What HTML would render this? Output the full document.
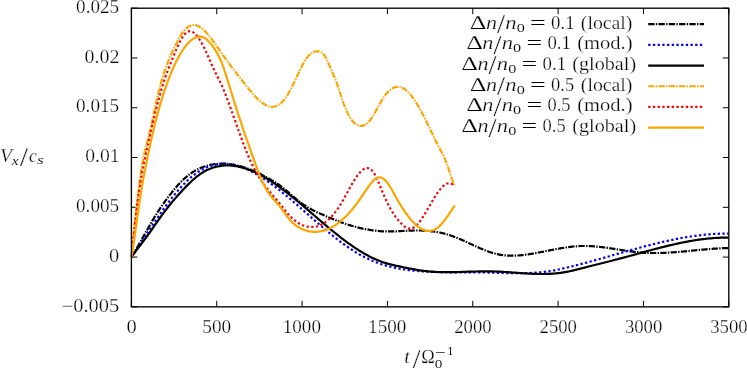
<!DOCTYPE html>
<html><head><meta charset="utf-8"><title>plot</title>
<style>html,body{margin:0;padding:0;background:#fff}svg{display:block;will-change:transform}text{font-family:"Liberation Serif","DejaVu Serif",serif;font-size:18px;fill:#000;stroke:#fff;stroke-width:0.25px}.i{font-style:italic}.s{font-size:12.6px}</style></head><body>
<svg width="747" height="368" viewBox="0 0 747 368">
<rect width="747" height="368" fill="#fff"/>
<path d="M131.40,306.85 v-6 M131.40,8.2 v6 M216.74,306.85 v-6 M216.74,8.2 v6 M302.09,306.85 v-6 M302.09,8.2 v6 M387.43,306.85 v-6 M387.43,8.2 v6 M472.77,306.85 v-6 M472.77,8.2 v6 M558.11,306.85 v-6 M558.11,8.2 v6 M643.46,306.85 v-6 M643.46,8.2 v6 M728.80,306.85 v-6 M728.80,8.2 v6 M131.4,306.85 h6 M728.8,306.85 h-6 M131.4,257.08 h6 M728.8,257.08 h-6 M131.4,207.30 h6 M728.8,207.30 h-6 M131.4,157.53 h6 M728.8,157.53 h-6 M131.4,107.75 h6 M728.8,107.75 h-6 M131.4,57.97 h6 M728.8,57.97 h-6 M131.4,8.20 h6 M728.8,8.20 h-6" stroke="#000" stroke-width="1" fill="none"/>
<path d="M131.5,257.0 L132.5,255.4 L133.5,253.7 L134.5,252.1 L135.5,250.4 L136.5,248.6 L137.5,246.9 L138.5,245.2 L139.5,243.4 L140.5,241.6 L141.5,239.9 L142.5,238.1 L143.5,236.3 L144.5,234.5 L145.5,232.7 L146.5,230.9 L147.5,229.2 L148.5,227.4 L149.5,225.7 L150.5,223.9 L151.5,222.2 L152.5,220.5 L153.5,218.8 L154.5,217.2 L155.5,215.6 L156.5,214.0 L157.5,212.4 L158.5,210.9 L159.5,209.3 L160.5,207.8 L161.5,206.4 L162.5,204.9 L163.5,203.5 L164.5,202.1 L165.5,200.7 L166.5,199.3 L167.5,198.0 L168.5,196.6 L169.5,195.3 L170.5,194.1 L171.5,192.8 L172.5,191.5 L173.5,190.3 L174.5,189.1 L175.5,187.9 L176.5,186.8 L177.5,185.6 L178.5,184.5 L179.5,183.5 L180.5,182.4 L181.5,181.4 L182.5,180.4 L183.5,179.4 L184.5,178.5 L185.5,177.6 L186.5,176.8 L187.5,175.9 L188.5,175.2 L189.5,174.4 L190.5,173.7 L191.5,173.0 L192.5,172.3 L193.5,171.7 L194.5,171.1 L195.5,170.5 L196.5,169.9 L197.5,169.4 L198.5,168.9 L199.5,168.4 L200.5,168.0 L201.5,167.6 L202.5,167.2 L203.5,166.8 L204.5,166.5 L205.5,166.1 L206.5,165.8 L207.5,165.6 L208.5,165.3 L209.5,165.1 L210.5,164.8 L211.5,164.6 L212.5,164.5 L213.5,164.3 L214.5,164.1 L215.5,164.0 L216.5,163.9 L217.5,163.8 L218.5,163.8 L219.5,163.7 L220.5,163.7 L221.5,163.6 L222.5,163.6 L223.5,163.7 L224.5,163.7 L225.5,163.7 L226.5,163.8 L227.5,163.9 L228.5,164.0 L229.5,164.1 L230.5,164.2 L231.5,164.4 L232.5,164.5 L233.5,164.7 L234.5,164.9 L235.5,165.1 L236.5,165.3 L237.5,165.5 L238.5,165.8 L239.5,166.0 L240.5,166.3 L241.5,166.6 L242.5,166.9 L243.5,167.2 L244.5,167.5 L245.5,167.8 L246.5,168.2 L247.5,168.5 L248.5,168.9 L249.5,169.3 L250.5,169.7 L251.5,170.1 L252.5,170.5 L253.5,170.9 L254.5,171.3 L255.5,171.8 L256.5,172.2 L257.5,172.7 L258.5,173.2 L259.5,173.6 L260.5,174.1 L261.5,174.6 L262.5,175.2 L263.5,175.7 L264.5,176.2 L265.5,176.7 L266.5,177.3 L267.5,177.8 L268.5,178.4 L269.5,179.0 L270.5,179.5 L271.5,180.1 L272.5,180.7 L273.5,181.3 L274.5,181.9 L275.5,182.5 L276.5,183.2 L277.5,183.8 L278.5,184.5 L279.5,185.2 L280.5,185.9 L281.5,186.7 L282.5,187.4 L283.5,188.2 L284.5,189.0 L285.5,189.9 L286.5,190.7 L287.5,191.5 L288.5,192.4 L289.5,193.3 L290.5,194.1 L291.5,195.0 L292.5,195.9 L293.5,196.7 L294.5,197.6 L295.5,198.4 L296.5,199.3 L297.5,200.1 L298.5,200.9 L299.5,201.7 L300.5,202.4 L301.5,203.2 L302.5,203.9 L303.5,204.6 L304.5,205.2 L305.5,205.9 L306.5,206.5 L307.5,207.1 L308.5,207.7 L309.5,208.3 L310.5,208.8 L311.5,209.4 L312.5,209.9 L313.5,210.4 L314.5,210.9 L315.5,211.4 L316.5,211.9 L317.5,212.4 L318.5,212.8 L319.5,213.3 L320.5,213.7 L321.5,214.2 L322.5,214.6 L323.5,215.1 L324.5,215.5 L325.5,216.0 L326.5,216.4 L327.5,216.8 L328.5,217.3 L329.5,217.7 L330.5,218.1 L331.5,218.5 L332.5,218.9 L333.5,219.3 L334.5,219.7 L335.5,220.1 L336.5,220.5 L337.5,220.9 L338.5,221.3 L339.5,221.7 L340.5,222.0 L341.5,222.4 L342.5,222.7 L343.5,223.1 L344.5,223.4 L345.5,223.8 L346.5,224.1 L347.5,224.4 L348.5,224.8 L349.5,225.1 L350.5,225.4 L351.5,225.7 L352.5,226.0 L353.5,226.3 L354.5,226.6 L355.5,226.8 L356.5,227.1 L357.5,227.4 L358.5,227.6 L359.5,227.9 L360.5,228.1 L361.5,228.3 L362.5,228.6 L363.5,228.8 L364.5,229.0 L365.5,229.2 L366.5,229.4 L367.5,229.6 L368.5,229.7 L369.5,229.9 L370.5,230.1 L371.5,230.2 L372.5,230.4 L373.5,230.5 L374.5,230.6 L375.5,230.7 L376.5,230.9 L377.5,231.0 L378.5,231.0 L379.5,231.1 L380.5,231.2 L381.5,231.3 L382.5,231.3 L383.5,231.3 L384.5,231.4 L385.5,231.4 L386.5,231.4 L387.5,231.4 L388.5,231.4 L389.5,231.4 L390.5,231.4 L391.5,231.4 L392.5,231.4 L393.5,231.4 L394.5,231.3 L395.5,231.3 L396.5,231.3 L397.5,231.2 L398.5,231.2 L399.5,231.1 L400.5,231.1 L401.5,231.0 L402.5,231.0 L403.5,230.9 L404.5,230.9 L405.5,230.8 L406.5,230.8 L407.5,230.8 L408.5,230.7 L409.5,230.7 L410.5,230.6 L411.5,230.6 L412.5,230.6 L413.5,230.5 L414.5,230.5 L415.5,230.5 L416.5,230.5 L417.5,230.5 L418.5,230.5 L419.5,230.5 L420.5,230.5 L421.5,230.5 L422.5,230.6 L423.5,230.6 L424.5,230.7 L425.5,230.7 L426.5,230.8 L427.5,230.9 L428.5,231.0 L429.5,231.0 L430.5,231.2 L431.5,231.3 L432.5,231.4 L433.5,231.5 L434.5,231.7 L435.5,231.8 L436.5,232.0 L437.5,232.2 L438.5,232.3 L439.5,232.5 L440.5,232.7 L441.5,233.0 L442.5,233.2 L443.5,233.4 L444.5,233.7 L445.5,233.9 L446.5,234.2 L447.5,234.5 L448.5,234.8 L449.5,235.1 L450.5,235.4 L451.5,235.8 L452.5,236.1 L453.5,236.5 L454.5,236.9 L455.5,237.3 L456.5,237.7 L457.5,238.1 L458.5,238.5 L459.5,238.9 L460.5,239.3 L461.5,239.8 L462.5,240.2 L463.5,240.6 L464.5,241.1 L465.5,241.5 L466.5,242.0 L467.5,242.5 L468.5,242.9 L469.5,243.4 L470.5,243.9 L471.5,244.3 L472.5,244.8 L473.5,245.2 L474.5,245.7 L475.5,246.2 L476.5,246.6 L477.5,247.1 L478.5,247.5 L479.5,248.0 L480.5,248.4 L481.5,248.8 L482.5,249.2 L483.5,249.6 L484.5,250.1 L485.5,250.4 L486.5,250.8 L487.5,251.2 L488.5,251.6 L489.5,251.9 L490.5,252.3 L491.5,252.6 L492.5,252.9 L493.5,253.2 L494.5,253.5 L495.5,253.7 L496.5,254.0 L497.5,254.2 L498.5,254.4 L499.5,254.6 L500.5,254.8 L501.5,255.0 L502.5,255.1 L503.5,255.2 L504.5,255.3 L505.5,255.4 L506.5,255.5 L507.5,255.6 L508.5,255.6 L509.5,255.7 L510.5,255.7 L511.5,255.7 L512.5,255.7 L513.5,255.7 L514.5,255.7 L515.5,255.6 L516.5,255.6 L517.5,255.5 L518.5,255.5 L519.5,255.4 L520.5,255.3 L521.5,255.2 L522.5,255.1 L523.5,255.0 L524.5,254.9 L525.5,254.7 L526.5,254.6 L527.5,254.5 L528.5,254.3 L529.5,254.1 L530.5,254.0 L531.5,253.8 L532.5,253.6 L533.5,253.5 L534.5,253.3 L535.5,253.1 L536.5,252.9 L537.5,252.7 L538.5,252.5 L539.5,252.3 L540.5,252.2 L541.5,252.0 L542.5,251.8 L543.5,251.6 L544.5,251.4 L545.5,251.2 L546.5,251.0 L547.5,250.8 L548.5,250.6 L549.5,250.4 L550.5,250.2 L551.5,250.0 L552.5,249.8 L553.5,249.6 L554.5,249.4 L555.5,249.2 L556.5,249.0 L557.5,248.8 L558.5,248.7 L559.5,248.5 L560.5,248.3 L561.5,248.1 L562.5,248.0 L563.5,247.8 L564.5,247.7 L565.5,247.5 L566.5,247.4 L567.5,247.2 L568.5,247.1 L569.5,247.0 L570.5,246.8 L571.5,246.7 L572.5,246.6 L573.5,246.5 L574.5,246.4 L575.5,246.3 L576.5,246.3 L577.5,246.2 L578.5,246.1 L579.5,246.1 L580.5,246.0 L581.5,246.0 L582.5,246.0 L583.5,246.0 L584.5,246.0 L585.5,246.0 L586.5,246.0 L587.5,246.0 L588.5,246.0 L589.5,246.1 L590.5,246.1 L591.5,246.2 L592.5,246.2 L593.5,246.3 L594.5,246.4 L595.5,246.5 L596.5,246.6 L597.5,246.7 L598.5,246.8 L599.5,246.9 L600.5,247.0 L601.5,247.1 L602.5,247.2 L603.5,247.3 L604.5,247.5 L605.5,247.6 L606.5,247.7 L607.5,247.9 L608.5,248.0 L609.5,248.2 L610.5,248.3 L611.5,248.5 L612.5,248.6 L613.5,248.8 L614.5,248.9 L615.5,249.1 L616.5,249.2 L617.5,249.4 L618.5,249.6 L619.5,249.7 L620.5,249.9 L621.5,250.0 L622.5,250.2 L623.5,250.3 L624.5,250.5 L625.5,250.6 L626.5,250.8 L627.5,250.9 L628.5,251.1 L629.5,251.2 L630.5,251.3 L631.5,251.5 L632.5,251.6 L633.5,251.7 L634.5,251.9 L635.5,252.0 L636.5,252.1 L637.5,252.2 L638.5,252.3 L639.5,252.4 L640.5,252.5 L641.5,252.6 L642.5,252.6 L643.5,252.7 L644.5,252.8 L645.5,252.8 L646.5,252.9 L647.5,252.9 L648.5,252.9 L649.5,253.0 L650.5,253.0 L651.5,253.0 L652.5,253.0 L653.5,253.0 L654.5,253.0 L655.5,253.0 L656.5,253.0 L657.5,253.0 L658.5,253.0 L659.5,253.0 L660.5,253.0 L661.5,252.9 L662.5,252.9 L663.5,252.9 L664.5,252.8 L665.5,252.8 L666.5,252.7 L667.5,252.7 L668.5,252.6 L669.5,252.6 L670.5,252.5 L671.5,252.4 L672.5,252.4 L673.5,252.3 L674.5,252.2 L675.5,252.1 L676.5,252.1 L677.5,252.0 L678.5,251.9 L679.5,251.8 L680.5,251.7 L681.5,251.6 L682.5,251.6 L683.5,251.5 L684.5,251.4 L685.5,251.3 L686.5,251.2 L687.5,251.1 L688.5,251.0 L689.5,250.9 L690.5,250.8 L691.5,250.7 L692.5,250.6 L693.5,250.5 L694.5,250.4 L695.5,250.3 L696.5,250.2 L697.5,250.1 L698.5,250.0 L699.5,249.9 L700.5,249.8 L701.5,249.7 L702.5,249.6 L703.5,249.6 L704.5,249.5 L705.5,249.4 L706.5,249.3 L707.5,249.2 L708.5,249.1 L709.5,249.0 L710.5,249.0 L711.5,248.9 L712.5,248.8 L713.5,248.7 L714.5,248.7 L715.5,248.6 L716.5,248.6 L717.5,248.5 L718.5,248.4 L719.5,248.4 L720.5,248.3 L721.5,248.3 L722.5,248.2 L723.5,248.2 L724.5,248.2 L725.5,248.1 L726.5,248.1 L727.5,248.1 L728.5,248.1" fill="none" stroke="#000" stroke-width="2.2" stroke-dasharray="6.3 1.3 1.4 1.3" stroke-linejoin="round"/>
<path d="M131.5,257.0 L132.5,255.5 L133.5,254.0 L134.5,252.5 L135.5,251.0 L136.5,249.5 L137.5,248.0 L138.5,246.5 L139.5,244.9 L140.5,243.4 L141.5,241.9 L142.5,240.4 L143.5,238.8 L144.5,237.3 L145.5,235.8 L146.5,234.2 L147.5,232.7 L148.5,231.2 L149.5,229.7 L150.5,228.2 L151.5,226.7 L152.5,225.2 L153.5,223.7 L154.5,222.2 L155.5,220.7 L156.5,219.2 L157.5,217.8 L158.5,216.3 L159.5,214.9 L160.5,213.4 L161.5,212.0 L162.5,210.6 L163.5,209.2 L164.5,207.8 L165.5,206.4 L166.5,205.0 L167.5,203.7 L168.5,202.4 L169.5,201.0 L170.5,199.7 L171.5,198.5 L172.5,197.2 L173.5,195.9 L174.5,194.7 L175.5,193.5 L176.5,192.3 L177.5,191.1 L178.5,189.9 L179.5,188.8 L180.5,187.7 L181.5,186.6 L182.5,185.5 L183.5,184.5 L184.5,183.5 L185.5,182.4 L186.5,181.5 L187.5,180.5 L188.5,179.6 L189.5,178.7 L190.5,177.8 L191.5,176.9 L192.5,176.1 L193.5,175.3 L194.5,174.6 L195.5,173.8 L196.5,173.1 L197.5,172.4 L198.5,171.8 L199.5,171.1 L200.5,170.5 L201.5,169.9 L202.5,169.4 L203.5,168.9 L204.5,168.4 L205.5,167.9 L206.5,167.5 L207.5,167.1 L208.5,166.7 L209.5,166.3 L210.5,166.0 L211.5,165.7 L212.5,165.4 L213.5,165.1 L214.5,164.9 L215.5,164.7 L216.5,164.5 L217.5,164.3 L218.5,164.2 L219.5,164.1 L220.5,164.0 L221.5,164.0 L222.5,163.9 L223.5,163.9 L224.5,163.9 L225.5,163.9 L226.5,164.0 L227.5,164.1 L228.5,164.1 L229.5,164.3 L230.5,164.4 L231.5,164.5 L232.5,164.7 L233.5,164.9 L234.5,165.1 L235.5,165.4 L236.5,165.6 L237.5,165.9 L238.5,166.2 L239.5,166.5 L240.5,166.8 L241.5,167.2 L242.5,167.5 L243.5,167.9 L244.5,168.3 L245.5,168.7 L246.5,169.1 L247.5,169.6 L248.5,170.0 L249.5,170.5 L250.5,171.0 L251.5,171.5 L252.5,172.0 L253.5,172.5 L254.5,173.1 L255.5,173.6 L256.5,174.2 L257.5,174.8 L258.5,175.3 L259.5,176.0 L260.5,176.6 L261.5,177.2 L262.5,177.8 L263.5,178.5 L264.5,179.1 L265.5,179.8 L266.5,180.5 L267.5,181.2 L268.5,181.9 L269.5,182.6 L270.5,183.3 L271.5,184.0 L272.5,184.8 L273.5,185.5 L274.5,186.3 L275.5,187.0 L276.5,187.8 L277.5,188.6 L278.5,189.4 L279.5,190.1 L280.5,190.9 L281.5,191.7 L282.5,192.6 L283.5,193.4 L284.5,194.2 L285.5,195.0 L286.5,195.8 L287.5,196.7 L288.5,197.5 L289.5,198.4 L290.5,199.2 L291.5,200.1 L292.5,200.9 L293.5,201.8 L294.5,202.6 L295.5,203.5 L296.5,204.4 L297.5,205.2 L298.5,206.1 L299.5,207.0 L300.5,207.9 L301.5,208.8 L302.5,209.6 L303.5,210.5 L304.5,211.4 L305.5,212.3 L306.5,213.2 L307.5,214.0 L308.5,214.9 L309.5,215.8 L310.5,216.7 L311.5,217.6 L312.5,218.5 L313.5,219.3 L314.5,220.2 L315.5,221.1 L316.5,222.0 L317.5,222.8 L318.5,223.7 L319.5,224.6 L320.5,225.4 L321.5,226.3 L322.5,227.2 L323.5,228.0 L324.5,228.9 L325.5,229.7 L326.5,230.5 L327.5,231.4 L328.5,232.2 L329.5,233.0 L330.5,233.9 L331.5,234.7 L332.5,235.5 L333.5,236.3 L334.5,237.1 L335.5,237.9 L336.5,238.7 L337.5,239.5 L338.5,240.2 L339.5,241.0 L340.5,241.8 L341.5,242.5 L342.5,243.3 L343.5,244.0 L344.5,244.7 L345.5,245.4 L346.5,246.1 L347.5,246.8 L348.5,247.5 L349.5,248.2 L350.5,248.9 L351.5,249.5 L352.5,250.2 L353.5,250.8 L354.5,251.5 L355.5,252.1 L356.5,252.7 L357.5,253.3 L358.5,253.9 L359.5,254.5 L360.5,255.0 L361.5,255.6 L362.5,256.1 L363.5,256.6 L364.5,257.2 L365.5,257.7 L366.5,258.1 L367.5,258.6 L368.5,259.1 L369.5,259.5 L370.5,260.0 L371.5,260.4 L372.5,260.8 L373.5,261.3 L374.5,261.7 L375.5,262.0 L376.5,262.4 L377.5,262.8 L378.5,263.2 L379.5,263.5 L380.5,263.8 L381.5,264.2 L382.5,264.5 L383.5,264.8 L384.5,265.1 L385.5,265.4 L386.5,265.7 L387.5,266.0 L388.5,266.2 L389.5,266.5 L390.5,266.8 L391.5,267.0 L392.5,267.2 L393.5,267.5 L394.5,267.7 L395.5,267.9 L396.5,268.1 L397.5,268.3 L398.5,268.5 L399.5,268.7 L400.5,268.9 L401.5,269.0 L402.5,269.2 L403.5,269.4 L404.5,269.5 L405.5,269.7 L406.5,269.8 L407.5,269.9 L408.5,270.1 L409.5,270.2 L410.5,270.3 L411.5,270.4 L412.5,270.5 L413.5,270.6 L414.5,270.7 L415.5,270.8 L416.5,270.9 L417.5,271.0 L418.5,271.1 L419.5,271.2 L420.5,271.3 L421.5,271.3 L422.5,271.4 L423.5,271.5 L424.5,271.5 L425.5,271.6 L426.5,271.6 L427.5,271.7 L428.5,271.7 L429.5,271.8 L430.5,271.8 L431.5,271.9 L432.5,271.9 L433.5,271.9 L434.5,272.0 L435.5,272.0 L436.5,272.0 L437.5,272.1 L438.5,272.1 L439.5,272.1 L440.5,272.1 L441.5,272.2 L442.5,272.2 L443.5,272.2 L444.5,272.2 L445.5,272.2 L446.5,272.2 L447.5,272.2 L448.5,272.2 L449.5,272.2 L450.5,272.3 L451.5,272.3 L452.5,272.3 L453.5,272.3 L454.5,272.3 L455.5,272.3 L456.5,272.3 L457.5,272.3 L458.5,272.3 L459.5,272.3 L460.5,272.3 L461.5,272.3 L462.5,272.3 L463.5,272.3 L464.5,272.3 L465.5,272.3 L466.5,272.3 L467.5,272.3 L468.5,272.3 L469.5,272.3 L470.5,272.3 L471.5,272.3 L472.5,272.3 L473.5,272.3 L474.5,272.3 L475.5,272.3 L476.5,272.3 L477.5,272.3 L478.5,272.3 L479.5,272.4 L480.5,272.4 L481.5,272.4 L482.5,272.4 L483.5,272.4 L484.5,272.5 L485.5,272.5 L486.5,272.5 L487.5,272.5 L488.5,272.6 L489.5,272.6 L490.5,272.6 L491.5,272.6 L492.5,272.7 L493.5,272.7 L494.5,272.7 L495.5,272.8 L496.5,272.8 L497.5,272.8 L498.5,272.9 L499.5,272.9 L500.5,272.9 L501.5,272.9 L502.5,273.0 L503.5,273.0 L504.5,273.0 L505.5,273.0 L506.5,273.1 L507.5,273.1 L508.5,273.1 L509.5,273.1 L510.5,273.2 L511.5,273.2 L512.5,273.2 L513.5,273.2 L514.5,273.2 L515.5,273.2 L516.5,273.2 L517.5,273.2 L518.5,273.2 L519.5,273.2 L520.5,273.2 L521.5,273.2 L522.5,273.2 L523.5,273.2 L524.5,273.2 L525.5,273.1 L526.5,273.1 L527.5,273.1 L528.5,273.0 L529.5,273.0 L530.5,273.0 L531.5,272.9 L532.5,272.9 L533.5,272.8 L534.5,272.7 L535.5,272.7 L536.5,272.6 L537.5,272.5 L538.5,272.4 L539.5,272.4 L540.5,272.3 L541.5,272.2 L542.5,272.1 L543.5,272.0 L544.5,271.8 L545.5,271.7 L546.5,271.6 L547.5,271.5 L548.5,271.3 L549.5,271.2 L550.5,271.0 L551.5,270.8 L552.5,270.7 L553.5,270.5 L554.5,270.3 L555.5,270.1 L556.5,269.9 L557.5,269.7 L558.5,269.5 L559.5,269.3 L560.5,269.1 L561.5,268.9 L562.5,268.6 L563.5,268.4 L564.5,268.2 L565.5,267.9 L566.5,267.7 L567.5,267.5 L568.5,267.2 L569.5,267.0 L570.5,266.7 L571.5,266.5 L572.5,266.2 L573.5,266.0 L574.5,265.7 L575.5,265.5 L576.5,265.2 L577.5,265.0 L578.5,264.7 L579.5,264.5 L580.5,264.2 L581.5,263.9 L582.5,263.7 L583.5,263.4 L584.5,263.1 L585.5,262.9 L586.5,262.6 L587.5,262.3 L588.5,262.1 L589.5,261.8 L590.5,261.5 L591.5,261.2 L592.5,261.0 L593.5,260.7 L594.5,260.4 L595.5,260.1 L596.5,259.9 L597.5,259.6 L598.5,259.3 L599.5,259.0 L600.5,258.7 L601.5,258.4 L602.5,258.2 L603.5,257.9 L604.5,257.6 L605.5,257.3 L606.5,257.0 L607.5,256.7 L608.5,256.5 L609.5,256.2 L610.5,255.9 L611.5,255.6 L612.5,255.3 L613.5,255.0 L614.5,254.8 L615.5,254.5 L616.5,254.2 L617.5,253.9 L618.5,253.6 L619.5,253.3 L620.5,253.0 L621.5,252.8 L622.5,252.5 L623.5,252.2 L624.5,251.9 L625.5,251.6 L626.5,251.3 L627.5,251.1 L628.5,250.8 L629.5,250.5 L630.5,250.2 L631.5,249.9 L632.5,249.7 L633.5,249.4 L634.5,249.1 L635.5,248.8 L636.5,248.6 L637.5,248.3 L638.5,248.0 L639.5,247.8 L640.5,247.5 L641.5,247.2 L642.5,247.0 L643.5,246.7 L644.5,246.4 L645.5,246.2 L646.5,245.9 L647.5,245.6 L648.5,245.4 L649.5,245.1 L650.5,244.9 L651.5,244.6 L652.5,244.4 L653.5,244.1 L654.5,243.9 L655.5,243.6 L656.5,243.4 L657.5,243.1 L658.5,242.9 L659.5,242.7 L660.5,242.4 L661.5,242.2 L662.5,242.0 L663.5,241.7 L664.5,241.5 L665.5,241.3 L666.5,241.0 L667.5,240.8 L668.5,240.6 L669.5,240.4 L670.5,240.2 L671.5,240.0 L672.5,239.8 L673.5,239.6 L674.5,239.3 L675.5,239.1 L676.5,238.9 L677.5,238.8 L678.5,238.6 L679.5,238.4 L680.5,238.2 L681.5,238.0 L682.5,237.8 L683.5,237.6 L684.5,237.5 L685.5,237.3 L686.5,237.1 L687.5,237.0 L688.5,236.8 L689.5,236.7 L690.5,236.5 L691.5,236.4 L692.5,236.2 L693.5,236.1 L694.5,235.9 L695.5,235.8 L696.5,235.7 L697.5,235.5 L698.5,235.4 L699.5,235.3 L700.5,235.2 L701.5,235.0 L702.5,234.9 L703.5,234.8 L704.5,234.7 L705.5,234.6 L706.5,234.5 L707.5,234.5 L708.5,234.4 L709.5,234.3 L710.5,234.2 L711.5,234.1 L712.5,234.1 L713.5,234.0 L714.5,233.9 L715.5,233.9 L716.5,233.8 L717.5,233.8 L718.5,233.8 L719.5,233.7 L720.5,233.7 L721.5,233.7 L722.5,233.6 L723.5,233.6 L724.5,233.6 L725.5,233.6 L726.5,233.6 L727.5,233.6 L728.5,233.6" fill="none" stroke="#0000ff" stroke-width="2.2" stroke-dasharray="2.3 2.4" stroke-linejoin="round"/>
<path d="M131.5,256.9 L132.5,255.6 L133.5,254.2 L134.5,252.9 L135.5,251.5 L136.5,250.2 L137.5,248.9 L138.5,247.6 L139.5,246.3 L140.5,245.0 L141.5,243.7 L142.5,242.4 L143.5,241.0 L144.5,239.7 L145.5,238.3 L146.5,237.0 L147.5,235.6 L148.5,234.2 L149.5,232.8 L150.5,231.4 L151.5,230.0 L152.5,228.6 L153.5,227.1 L154.5,225.7 L155.5,224.2 L156.5,222.8 L157.5,221.3 L158.5,219.9 L159.5,218.5 L160.5,217.1 L161.5,215.7 L162.5,214.4 L163.5,213.0 L164.5,211.7 L165.5,210.4 L166.5,209.1 L167.5,207.8 L168.5,206.5 L169.5,205.3 L170.5,204.0 L171.5,202.8 L172.5,201.6 L173.5,200.4 L174.5,199.3 L175.5,198.1 L176.5,196.9 L177.5,195.8 L178.5,194.7 L179.5,193.6 L180.5,192.5 L181.5,191.4 L182.5,190.3 L183.5,189.2 L184.5,188.2 L185.5,187.1 L186.5,186.1 L187.5,185.1 L188.5,184.1 L189.5,183.1 L190.5,182.2 L191.5,181.2 L192.5,180.3 L193.5,179.4 L194.5,178.6 L195.5,177.7 L196.5,176.9 L197.5,176.1 L198.5,175.3 L199.5,174.6 L200.5,173.9 L201.5,173.2 L202.5,172.6 L203.5,172.0 L204.5,171.4 L205.5,170.8 L206.5,170.3 L207.5,169.8 L208.5,169.4 L209.5,168.9 L210.5,168.5 L211.5,168.2 L212.5,167.8 L213.5,167.5 L214.5,167.2 L215.5,166.9 L216.5,166.7 L217.5,166.5 L218.5,166.3 L219.5,166.1 L220.5,165.9 L221.5,165.8 L222.5,165.7 L223.5,165.6 L224.5,165.5 L225.5,165.5 L226.5,165.4 L227.5,165.4 L228.5,165.5 L229.5,165.5 L230.5,165.5 L231.5,165.6 L232.5,165.7 L233.5,165.8 L234.5,165.9 L235.5,166.1 L236.5,166.2 L237.5,166.4 L238.5,166.6 L239.5,166.8 L240.5,167.1 L241.5,167.3 L242.5,167.6 L243.5,167.9 L244.5,168.2 L245.5,168.5 L246.5,168.8 L247.5,169.2 L248.5,169.5 L249.5,169.9 L250.5,170.3 L251.5,170.7 L252.5,171.1 L253.5,171.6 L254.5,172.0 L255.5,172.5 L256.5,172.9 L257.5,173.4 L258.5,173.9 L259.5,174.4 L260.5,175.0 L261.5,175.5 L262.5,176.1 L263.5,176.6 L264.5,177.2 L265.5,177.8 L266.5,178.4 L267.5,179.0 L268.5,179.6 L269.5,180.2 L270.5,180.9 L271.5,181.5 L272.5,182.2 L273.5,182.9 L274.5,183.5 L275.5,184.2 L276.5,184.9 L277.5,185.6 L278.5,186.4 L279.5,187.1 L280.5,187.8 L281.5,188.5 L282.5,189.3 L283.5,190.0 L284.5,190.8 L285.5,191.6 L286.5,192.3 L287.5,193.1 L288.5,193.9 L289.5,194.7 L290.5,195.5 L291.5,196.3 L292.5,197.1 L293.5,197.9 L294.5,198.7 L295.5,199.5 L296.5,200.4 L297.5,201.2 L298.5,202.0 L299.5,202.9 L300.5,203.7 L301.5,204.5 L302.5,205.4 L303.5,206.2 L304.5,207.1 L305.5,207.9 L306.5,208.8 L307.5,209.6 L308.5,210.5 L309.5,211.4 L310.5,212.2 L311.5,213.1 L312.5,213.9 L313.5,214.8 L314.5,215.7 L315.5,216.5 L316.5,217.4 L317.5,218.2 L318.5,219.1 L319.5,220.0 L320.5,220.8 L321.5,221.7 L322.5,222.5 L323.5,223.4 L324.5,224.2 L325.5,225.1 L326.5,225.9 L327.5,226.8 L328.5,227.6 L329.5,228.4 L330.5,229.3 L331.5,230.1 L332.5,230.9 L333.5,231.7 L334.5,232.5 L335.5,233.3 L336.5,234.1 L337.5,234.9 L338.5,235.7 L339.5,236.5 L340.5,237.3 L341.5,238.1 L342.5,238.8 L343.5,239.6 L344.5,240.4 L345.5,241.1 L346.5,241.8 L347.5,242.6 L348.5,243.3 L349.5,244.0 L350.5,244.7 L351.5,245.4 L352.5,246.1 L353.5,246.8 L354.5,247.5 L355.5,248.1 L356.5,248.8 L357.5,249.4 L358.5,250.1 L359.5,250.7 L360.5,251.3 L361.5,251.9 L362.5,252.5 L363.5,253.1 L364.5,253.7 L365.5,254.2 L366.5,254.8 L367.5,255.3 L368.5,255.9 L369.5,256.4 L370.5,256.9 L371.5,257.4 L372.5,257.9 L373.5,258.3 L374.5,258.8 L375.5,259.2 L376.5,259.7 L377.5,260.1 L378.5,260.5 L379.5,260.9 L380.5,261.3 L381.5,261.7 L382.5,262.0 L383.5,262.4 L384.5,262.7 L385.5,263.0 L386.5,263.3 L387.5,263.6 L388.5,263.9 L389.5,264.1 L390.5,264.4 L391.5,264.6 L392.5,264.9 L393.5,265.1 L394.5,265.3 L395.5,265.6 L396.5,265.8 L397.5,266.0 L398.5,266.2 L399.5,266.4 L400.5,266.6 L401.5,266.8 L402.5,267.0 L403.5,267.3 L404.5,267.5 L405.5,267.7 L406.5,267.9 L407.5,268.1 L408.5,268.3 L409.5,268.5 L410.5,268.7 L411.5,268.9 L412.5,269.1 L413.5,269.2 L414.5,269.4 L415.5,269.6 L416.5,269.8 L417.5,270.0 L418.5,270.1 L419.5,270.3 L420.5,270.4 L421.5,270.6 L422.5,270.7 L423.5,270.8 L424.5,271.0 L425.5,271.1 L426.5,271.2 L427.5,271.3 L428.5,271.4 L429.5,271.5 L430.5,271.6 L431.5,271.7 L432.5,271.7 L433.5,271.8 L434.5,271.9 L435.5,271.9 L436.5,272.0 L437.5,272.0 L438.5,272.0 L439.5,272.1 L440.5,272.1 L441.5,272.1 L442.5,272.2 L443.5,272.2 L444.5,272.2 L445.5,272.2 L446.5,272.2 L447.5,272.2 L448.5,272.2 L449.5,272.2 L450.5,272.2 L451.5,272.2 L452.5,272.2 L453.5,272.1 L454.5,272.1 L455.5,272.1 L456.5,272.1 L457.5,272.1 L458.5,272.0 L459.5,272.0 L460.5,272.0 L461.5,271.9 L462.5,271.9 L463.5,271.9 L464.5,271.8 L465.5,271.8 L466.5,271.8 L467.5,271.7 L468.5,271.7 L469.5,271.7 L470.5,271.7 L471.5,271.6 L472.5,271.6 L473.5,271.6 L474.5,271.5 L475.5,271.5 L476.5,271.5 L477.5,271.5 L478.5,271.4 L479.5,271.4 L480.5,271.4 L481.5,271.4 L482.5,271.4 L483.5,271.4 L484.5,271.4 L485.5,271.3 L486.5,271.3 L487.5,271.3 L488.5,271.4 L489.5,271.4 L490.5,271.4 L491.5,271.4 L492.5,271.4 L493.5,271.4 L494.5,271.5 L495.5,271.5 L496.5,271.6 L497.5,271.6 L498.5,271.6 L499.5,271.7 L500.5,271.7 L501.5,271.8 L502.5,271.8 L503.5,271.9 L504.5,272.0 L505.5,272.0 L506.5,272.1 L507.5,272.2 L508.5,272.2 L509.5,272.3 L510.5,272.4 L511.5,272.4 L512.5,272.5 L513.5,272.6 L514.5,272.6 L515.5,272.7 L516.5,272.8 L517.5,272.9 L518.5,272.9 L519.5,273.0 L520.5,273.1 L521.5,273.1 L522.5,273.2 L523.5,273.3 L524.5,273.3 L525.5,273.4 L526.5,273.5 L527.5,273.5 L528.5,273.6 L529.5,273.6 L530.5,273.7 L531.5,273.7 L532.5,273.8 L533.5,273.8 L534.5,273.8 L535.5,273.9 L536.5,273.9 L537.5,273.9 L538.5,274.0 L539.5,274.0 L540.5,274.0 L541.5,274.0 L542.5,274.0 L543.5,274.0 L544.5,274.0 L545.5,274.0 L546.5,273.9 L547.5,273.9 L548.5,273.9 L549.5,273.8 L550.5,273.8 L551.5,273.7 L552.5,273.7 L553.5,273.6 L554.5,273.5 L555.5,273.4 L556.5,273.3 L557.5,273.2 L558.5,273.1 L559.5,273.0 L560.5,272.9 L561.5,272.7 L562.5,272.6 L563.5,272.4 L564.5,272.2 L565.5,272.1 L566.5,271.9 L567.5,271.7 L568.5,271.5 L569.5,271.3 L570.5,271.0 L571.5,270.8 L572.5,270.6 L573.5,270.3 L574.5,270.1 L575.5,269.8 L576.5,269.6 L577.5,269.3 L578.5,269.1 L579.5,268.8 L580.5,268.6 L581.5,268.3 L582.5,268.1 L583.5,267.8 L584.5,267.6 L585.5,267.3 L586.5,267.1 L587.5,266.8 L588.5,266.5 L589.5,266.3 L590.5,266.0 L591.5,265.8 L592.5,265.5 L593.5,265.3 L594.5,265.0 L595.5,264.8 L596.5,264.5 L597.5,264.3 L598.5,264.0 L599.5,263.8 L600.5,263.5 L601.5,263.3 L602.5,263.0 L603.5,262.8 L604.5,262.5 L605.5,262.3 L606.5,262.0 L607.5,261.8 L608.5,261.5 L609.5,261.3 L610.5,261.0 L611.5,260.8 L612.5,260.5 L613.5,260.2 L614.5,260.0 L615.5,259.7 L616.5,259.5 L617.5,259.2 L618.5,258.9 L619.5,258.7 L620.5,258.4 L621.5,258.2 L622.5,257.9 L623.5,257.6 L624.5,257.4 L625.5,257.1 L626.5,256.8 L627.5,256.5 L628.5,256.3 L629.5,256.0 L630.5,255.7 L631.5,255.5 L632.5,255.2 L633.5,254.9 L634.5,254.6 L635.5,254.4 L636.5,254.1 L637.5,253.8 L638.5,253.5 L639.5,253.3 L640.5,253.0 L641.5,252.7 L642.5,252.4 L643.5,252.2 L644.5,251.9 L645.5,251.6 L646.5,251.4 L647.5,251.1 L648.5,250.8 L649.5,250.5 L650.5,250.3 L651.5,250.0 L652.5,249.7 L653.5,249.5 L654.5,249.2 L655.5,248.9 L656.5,248.7 L657.5,248.4 L658.5,248.2 L659.5,247.9 L660.5,247.7 L661.5,247.4 L662.5,247.1 L663.5,246.9 L664.5,246.6 L665.5,246.4 L666.5,246.1 L667.5,245.9 L668.5,245.7 L669.5,245.4 L670.5,245.2 L671.5,245.0 L672.5,244.7 L673.5,244.5 L674.5,244.3 L675.5,244.0 L676.5,243.8 L677.5,243.6 L678.5,243.4 L679.5,243.2 L680.5,243.0 L681.5,242.7 L682.5,242.5 L683.5,242.3 L684.5,242.1 L685.5,241.9 L686.5,241.8 L687.5,241.6 L688.5,241.4 L689.5,241.2 L690.5,241.0 L691.5,240.8 L692.5,240.7 L693.5,240.5 L694.5,240.3 L695.5,240.2 L696.5,240.0 L697.5,239.9 L698.5,239.7 L699.5,239.6 L700.5,239.5 L701.5,239.3 L702.5,239.2 L703.5,239.1 L704.5,239.0 L705.5,238.8 L706.5,238.7 L707.5,238.6 L708.5,238.5 L709.5,238.4 L710.5,238.3 L711.5,238.3 L712.5,238.2 L713.5,238.1 L714.5,238.0 L715.5,238.0 L716.5,237.9 L717.5,237.9 L718.5,237.8 L719.5,237.8 L720.5,237.7 L721.5,237.7 L722.5,237.7 L723.5,237.7 L724.5,237.6 L725.5,237.6 L726.5,237.6 L727.5,237.6 L728.5,237.7" fill="none" stroke="#000" stroke-width="2.2" stroke-linejoin="round"/>
<path d="M131.5,256.9 L132.5,246.0 L133.5,235.6 L134.5,225.6 L135.5,216.1 L136.5,207.1 L137.5,198.5 L138.5,190.3 L139.5,182.6 L140.5,175.3 L141.5,168.6 L142.5,162.6 L143.5,157.2 L144.5,152.6 L145.5,148.4 L146.5,144.6 L147.5,140.9 L148.5,137.2 L149.5,133.2 L150.5,129.0 L151.5,124.4 L152.5,119.7 L153.5,114.9 L154.5,110.1 L155.5,105.4 L156.5,100.9 L157.5,96.5 L158.5,92.4 L159.5,88.4 L160.5,84.6 L161.5,81.1 L162.5,77.7 L163.5,74.5 L164.5,71.4 L165.5,68.5 L166.5,65.8 L167.5,63.1 L168.5,60.6 L169.5,58.2 L170.5,55.9 L171.5,53.7 L172.5,51.5 L173.5,49.4 L174.5,47.3 L175.5,45.3 L176.5,43.2 L177.5,41.3 L178.5,39.3 L179.5,37.5 L180.5,35.8 L181.5,34.2 L182.5,32.7 L183.5,31.4 L184.5,30.2 L185.5,29.1 L186.5,28.2 L187.5,27.4 L188.5,26.7 L189.5,26.1 L190.5,25.7 L191.5,25.3 L192.5,25.1 L193.5,25.0 L194.5,25.1 L195.5,25.2 L196.5,25.4 L197.5,25.8 L198.5,26.2 L199.5,26.8 L200.5,27.4 L201.5,28.1 L202.5,28.9 L203.5,29.8 L204.5,30.7 L205.5,31.7 L206.5,32.8 L207.5,33.9 L208.5,35.1 L209.5,36.3 L210.5,37.6 L211.5,38.9 L212.5,40.2 L213.5,41.6 L214.5,43.0 L215.5,44.4 L216.5,45.9 L217.5,47.3 L218.5,48.7 L219.5,50.2 L220.5,51.6 L221.5,53.1 L222.5,54.5 L223.5,55.9 L224.5,57.3 L225.5,58.7 L226.5,60.1 L227.5,61.4 L228.5,62.8 L229.5,64.1 L230.5,65.4 L231.5,66.8 L232.5,68.1 L233.5,69.4 L234.5,70.7 L235.5,72.0 L236.5,73.3 L237.5,74.6 L238.5,75.9 L239.5,77.2 L240.5,78.4 L241.5,79.7 L242.5,81.0 L243.5,82.3 L244.5,83.5 L245.5,84.8 L246.5,86.1 L247.5,87.3 L248.5,88.6 L249.5,89.8 L250.5,91.0 L251.5,92.2 L252.5,93.4 L253.5,94.5 L254.5,95.6 L255.5,96.7 L256.5,97.7 L257.5,98.7 L258.5,99.7 L259.5,100.6 L260.5,101.5 L261.5,102.3 L262.5,103.0 L263.5,103.7 L264.5,104.3 L265.5,104.9 L266.5,105.4 L267.5,105.8 L268.5,106.2 L269.5,106.5 L270.5,106.6 L271.5,106.8 L272.5,106.8 L273.5,106.7 L274.5,106.5 L275.5,106.3 L276.5,105.9 L277.5,105.5 L278.5,104.9 L279.5,104.2 L280.5,103.5 L281.5,102.6 L282.5,101.6 L283.5,100.5 L284.5,99.3 L285.5,98.0 L286.5,96.6 L287.5,95.0 L288.5,93.3 L289.5,91.5 L290.5,89.7 L291.5,87.7 L292.5,85.7 L293.5,83.7 L294.5,81.6 L295.5,79.4 L296.5,77.3 L297.5,75.2 L298.5,73.1 L299.5,71.0 L300.5,69.0 L301.5,67.0 L302.5,65.1 L303.5,63.3 L304.5,61.5 L305.5,59.9 L306.5,58.4 L307.5,57.1 L308.5,55.9 L309.5,54.8 L310.5,53.9 L311.5,53.2 L312.5,52.6 L313.5,52.1 L314.5,51.7 L315.5,51.5 L316.5,51.4 L317.5,51.4 L318.5,51.4 L319.5,51.6 L320.5,52.0 L321.5,52.5 L322.5,53.3 L323.5,54.3 L324.5,55.5 L325.5,57.1 L326.5,59.0 L327.5,61.1 L328.5,63.3 L329.5,65.7 L330.5,68.1 L331.5,70.4 L332.5,72.7 L333.5,75.0 L334.5,77.3 L335.5,79.8 L336.5,82.4 L337.5,85.2 L338.5,88.1 L339.5,91.2 L340.5,94.3 L341.5,97.4 L342.5,100.4 L343.5,103.3 L344.5,105.9 L345.5,108.4 L346.5,110.8 L347.5,112.9 L348.5,114.8 L349.5,116.6 L350.5,118.3 L351.5,119.7 L352.5,121.0 L353.5,122.1 L354.5,123.1 L355.5,123.9 L356.5,124.6 L357.5,125.1 L358.5,125.5 L359.5,125.8 L360.5,125.9 L361.5,125.9 L362.5,125.8 L363.5,125.5 L364.5,125.1 L365.5,124.5 L366.5,123.8 L367.5,123.0 L368.5,122.0 L369.5,120.9 L370.5,119.6 L371.5,118.2 L372.5,116.7 L373.5,115.0 L374.5,113.3 L375.5,111.6 L376.5,109.8 L377.5,108.0 L378.5,106.2 L379.5,104.4 L380.5,102.6 L381.5,100.9 L382.5,99.3 L383.5,97.7 L384.5,96.2 L385.5,94.9 L386.5,93.6 L387.5,92.4 L388.5,91.4 L389.5,90.4 L390.5,89.6 L391.5,88.9 L392.5,88.3 L393.5,87.8 L394.5,87.4 L395.5,87.1 L396.5,86.9 L397.5,86.9 L398.5,86.9 L399.5,87.0 L400.5,87.2 L401.5,87.6 L402.5,88.0 L403.5,88.5 L404.5,89.1 L405.5,89.8 L406.5,90.6 L407.5,91.5 L408.5,92.5 L409.5,93.5 L410.5,94.7 L411.5,95.9 L412.5,97.2 L413.5,98.6 L414.5,100.0 L415.5,101.6 L416.5,103.2 L417.5,104.8 L418.5,106.5 L419.5,108.3 L420.5,110.1 L421.5,112.0 L422.5,113.9 L423.5,115.8 L424.5,117.7 L425.5,119.7 L426.5,121.7 L427.5,123.8 L428.5,125.8 L429.5,127.9 L430.5,129.9 L431.5,132.0 L432.5,134.1 L433.5,136.1 L434.5,138.2 L435.5,140.2 L436.5,142.2 L437.5,144.2 L438.5,146.2 L439.5,148.1 L440.5,150.1 L441.5,151.9 L442.5,153.8 L443.5,155.8 L444.5,158.0 L445.5,160.4 L446.5,163.0 L447.5,165.8 L448.5,168.7 L449.5,171.7 L450.5,174.7 L451.5,177.6 L452.5,180.4 L453.5,183.0 L454.5,185.5 L454.6,185.7" fill="none" stroke="#ffa500" stroke-width="2.2" stroke-dasharray="6.3 1.3 1.4 1.3" stroke-linejoin="round"/>
<path d="M131.5,257.2 L132.5,247.2 L133.5,237.6 L134.5,228.4 L135.5,219.5 L136.5,211.1 L137.5,203.2 L138.5,195.8 L139.5,188.9 L140.5,182.5 L141.5,176.6 L142.5,171.1 L143.5,165.8 L144.5,160.7 L145.5,155.8 L146.5,151.0 L147.5,146.3 L148.5,141.7 L149.5,137.2 L150.5,132.8 L151.5,128.4 L152.5,124.2 L153.5,120.0 L154.5,115.9 L155.5,111.8 L156.5,107.9 L157.5,104.0 L158.5,100.1 L159.5,96.4 L160.5,92.8 L161.5,89.3 L162.5,85.9 L163.5,82.7 L164.5,79.7 L165.5,76.7 L166.5,73.9 L167.5,71.2 L168.5,68.6 L169.5,66.1 L170.5,63.6 L171.5,61.1 L172.5,58.7 L173.5,56.3 L174.5,53.9 L175.5,51.4 L176.5,49.0 L177.5,46.7 L178.5,44.5 L179.5,42.4 L180.5,40.5 L181.5,38.7 L182.5,37.1 L183.5,35.7 L184.5,34.4 L185.5,33.4 L186.5,32.5 L187.5,31.9 L188.5,31.4 L189.5,31.2 L190.5,31.3 L191.5,31.5 L192.5,31.9 L193.5,32.5 L194.5,33.3 L195.5,34.2 L196.5,35.3 L197.5,36.5 L198.5,37.9 L199.5,39.4 L200.5,41.1 L201.5,42.8 L202.5,44.6 L203.5,46.6 L204.5,48.6 L205.5,50.7 L206.5,52.8 L207.5,55.0 L208.5,57.3 L209.5,59.5 L210.5,61.8 L211.5,64.1 L212.5,66.3 L213.5,68.5 L214.5,70.7 L215.5,72.7 L216.5,74.7 L217.5,76.7 L218.5,78.7 L219.5,80.7 L220.5,82.7 L221.5,84.9 L222.5,87.1 L223.5,89.5 L224.5,91.9 L225.5,94.4 L226.5,97.0 L227.5,99.6 L228.5,102.3 L229.5,105.1 L230.5,107.8 L231.5,110.6 L232.5,113.4 L233.5,116.3 L234.5,119.1 L235.5,121.9 L236.5,124.8 L237.5,127.6 L238.5,130.4 L239.5,133.2 L240.5,135.9 L241.5,138.7 L242.5,141.4 L243.5,144.0 L244.5,146.6 L245.5,149.2 L246.5,151.7 L247.5,154.1 L248.5,156.5 L249.5,158.8 L250.5,161.0 L251.5,163.2 L252.5,165.2 L253.5,167.3 L254.5,169.2 L255.5,171.0 L256.5,172.8 L257.5,174.6 L258.5,176.2 L259.5,177.8 L260.5,179.4 L261.5,180.9 L262.5,182.3 L263.5,183.7 L264.5,185.1 L265.5,186.4 L266.5,187.7 L267.5,189.0 L268.5,190.2 L269.5,191.4 L270.5,192.6 L271.5,193.8 L272.5,195.0 L273.5,196.2 L274.5,197.3 L275.5,198.5 L276.5,199.7 L277.5,200.9 L278.5,202.1 L279.5,203.3 L280.5,204.6 L281.5,205.8 L282.5,207.1 L283.5,208.4 L284.5,209.6 L285.5,210.9 L286.5,212.1 L287.5,213.3 L288.5,214.5 L289.5,215.5 L290.5,216.6 L291.5,217.6 L292.5,218.5 L293.5,219.4 L294.5,220.2 L295.5,221.0 L296.5,221.8 L297.5,222.4 L298.5,223.1 L299.5,223.7 L300.5,224.2 L301.5,224.7 L302.5,225.2 L303.5,225.5 L304.5,225.9 L305.5,226.2 L306.5,226.5 L307.5,226.7 L308.5,226.8 L309.5,227.0 L310.5,227.0 L311.5,227.0 L312.5,227.0 L313.5,227.0 L314.5,226.8 L315.5,226.7 L316.5,226.5 L317.5,226.2 L318.5,225.9 L319.5,225.5 L320.5,225.1 L321.5,224.6 L322.5,224.1 L323.5,223.5 L324.5,222.9 L325.5,222.2 L326.5,221.4 L327.5,220.6 L328.5,219.7 L329.5,218.8 L330.5,217.8 L331.5,216.7 L332.5,215.6 L333.5,214.4 L334.5,213.2 L335.5,211.9 L336.5,210.6 L337.5,209.1 L338.5,207.7 L339.5,206.1 L340.5,204.5 L341.5,202.8 L342.5,201.1 L343.5,199.4 L344.5,197.6 L345.5,195.8 L346.5,194.0 L347.5,192.2 L348.5,190.3 L349.5,188.5 L350.5,186.7 L351.5,184.9 L352.5,183.2 L353.5,181.5 L354.5,179.9 L355.5,178.3 L356.5,176.8 L357.5,175.4 L358.5,174.1 L359.5,172.9 L360.5,171.8 L361.5,170.8 L362.5,170.0 L363.5,169.3 L364.5,168.7 L365.5,168.3 L366.5,168.1 L367.5,168.1 L368.5,168.3 L369.5,168.6 L370.5,169.2 L371.5,170.0 L372.5,171.1 L373.5,172.3 L374.5,173.9 L375.5,175.6 L376.5,177.6 L377.5,179.8 L378.5,182.2 L379.5,184.6 L380.5,187.1 L381.5,189.5 L382.5,192.0 L383.5,194.4 L384.5,196.7 L385.5,198.9 L386.5,201.1 L387.5,203.1 L388.5,205.1 L389.5,207.0 L390.5,208.8 L391.5,210.5 L392.5,212.2 L393.5,213.7 L394.5,215.2 L395.5,216.6 L396.5,217.9 L397.5,219.2 L398.5,220.4 L399.5,221.6 L400.5,222.8 L401.5,223.8 L402.5,224.8 L403.5,225.7 L404.5,226.5 L405.5,227.2 L406.5,227.8 L407.5,228.2 L408.5,228.6 L409.5,228.7 L410.5,228.7 L411.5,228.5 L412.5,228.2 L413.5,227.7 L414.5,227.0 L415.5,226.2 L416.5,225.3 L417.5,224.3 L418.5,223.1 L419.5,221.9 L420.5,220.5 L421.5,219.1 L422.5,217.6 L423.5,216.1 L424.5,214.5 L425.5,212.8 L426.5,211.1 L427.5,209.4 L428.5,207.7 L429.5,206.0 L430.5,204.2 L431.5,202.5 L432.5,200.8 L433.5,199.1 L434.5,197.5 L435.5,195.9 L436.5,194.3 L437.5,192.8 L438.5,191.4 L439.5,190.1 L440.5,188.9 L441.5,187.7 L442.5,186.7 L443.5,185.8 L444.5,185.0 L445.5,184.3 L446.5,183.8 L447.5,183.5 L448.5,183.3 L449.5,183.2 L450.5,183.4 L451.5,183.7 L452.5,184.3 L453.5,185.0 L454.5,186.0 L454.6,186.1" fill="none" stroke="#ff0000" stroke-width="2.2" stroke-dasharray="2.3 2.4" stroke-linejoin="round"/>
<path d="M131.5,257.1 L132.5,250.8 L133.5,244.1 L134.5,237.3 L135.5,230.2 L136.5,223.1 L137.5,216.0 L138.5,209.0 L139.5,202.2 L140.5,195.6 L141.5,189.3 L142.5,183.4 L143.5,177.8 L144.5,172.5 L145.5,167.3 L146.5,162.3 L147.5,157.5 L148.5,152.6 L149.5,147.9 L150.5,143.2 L151.5,138.6 L152.5,134.2 L153.5,129.9 L154.5,125.7 L155.5,121.7 L156.5,117.9 L157.5,114.1 L158.5,110.5 L159.5,107.0 L160.5,103.5 L161.5,100.2 L162.5,97.0 L163.5,93.8 L164.5,90.8 L165.5,87.8 L166.5,84.9 L167.5,82.1 L168.5,79.4 L169.5,76.8 L170.5,74.3 L171.5,71.9 L172.5,69.5 L173.5,67.2 L174.5,65.0 L175.5,62.9 L176.5,60.9 L177.5,59.0 L178.5,57.1 L179.5,55.3 L180.5,53.6 L181.5,52.0 L182.5,50.4 L183.5,48.9 L184.5,47.5 L185.5,46.2 L186.5,45.0 L187.5,43.8 L188.5,42.7 L189.5,41.7 L190.5,40.8 L191.5,40.0 L192.5,39.2 L193.5,38.6 L194.5,38.0 L195.5,37.5 L196.5,37.2 L197.5,36.9 L198.5,36.7 L199.5,36.6 L200.5,36.7 L201.5,36.8 L202.5,37.1 L203.5,37.5 L204.5,38.0 L205.5,38.6 L206.5,39.3 L207.5,40.2 L208.5,41.2 L209.5,42.2 L210.5,43.4 L211.5,44.7 L212.5,46.0 L213.5,47.4 L214.5,48.9 L215.5,50.5 L216.5,52.1 L217.5,53.8 L218.5,55.7 L219.5,57.6 L220.5,59.8 L221.5,62.2 L222.5,64.8 L223.5,67.6 L224.5,70.5 L225.5,73.5 L226.5,76.7 L227.5,79.9 L228.5,83.1 L229.5,86.3 L230.5,89.6 L231.5,92.8 L232.5,96.1 L233.5,99.3 L234.5,102.5 L235.5,105.7 L236.5,108.9 L237.5,112.0 L238.5,115.1 L239.5,118.2 L240.5,121.2 L241.5,124.2 L242.5,127.2 L243.5,130.1 L244.5,133.0 L245.5,135.9 L246.5,138.7 L247.5,141.6 L248.5,144.4 L249.5,147.3 L250.5,150.1 L251.5,152.9 L252.5,155.7 L253.5,158.6 L254.5,161.4 L255.5,164.2 L256.5,167.0 L257.5,169.8 L258.5,172.4 L259.5,175.0 L260.5,177.5 L261.5,179.8 L262.5,182.0 L263.5,184.1 L264.5,186.0 L265.5,187.9 L266.5,189.6 L267.5,191.2 L268.5,192.8 L269.5,194.2 L270.5,195.6 L271.5,196.9 L272.5,198.1 L273.5,199.3 L274.5,200.4 L275.5,201.5 L276.5,202.6 L277.5,203.7 L278.5,204.9 L279.5,206.1 L280.5,207.3 L281.5,208.6 L282.5,210.0 L283.5,211.3 L284.5,212.7 L285.5,214.1 L286.5,215.5 L287.5,216.8 L288.5,218.1 L289.5,219.4 L290.5,220.5 L291.5,221.6 L292.5,222.6 L293.5,223.5 L294.5,224.4 L295.5,225.2 L296.5,225.9 L297.5,226.6 L298.5,227.2 L299.5,227.8 L300.5,228.3 L301.5,228.8 L302.5,229.2 L303.5,229.6 L304.5,230.0 L305.5,230.3 L306.5,230.6 L307.5,230.9 L308.5,231.1 L309.5,231.3 L310.5,231.5 L311.5,231.6 L312.5,231.7 L313.5,231.8 L314.5,231.8 L315.5,231.8 L316.5,231.8 L317.5,231.7 L318.5,231.6 L319.5,231.5 L320.5,231.3 L321.5,231.2 L322.5,230.9 L323.5,230.7 L324.5,230.4 L325.5,230.0 L326.5,229.7 L327.5,229.3 L328.5,228.8 L329.5,228.4 L330.5,227.9 L331.5,227.4 L332.5,226.8 L333.5,226.2 L334.5,225.6 L335.5,225.0 L336.5,224.3 L337.5,223.6 L338.5,222.8 L339.5,222.0 L340.5,221.2 L341.5,220.4 L342.5,219.5 L343.5,218.6 L344.5,217.6 L345.5,216.7 L346.5,215.7 L347.5,214.6 L348.5,213.6 L349.5,212.5 L350.5,211.4 L351.5,210.2 L352.5,209.0 L353.5,207.8 L354.5,206.5 L355.5,205.3 L356.5,203.9 L357.5,202.6 L358.5,201.2 L359.5,199.8 L360.5,198.4 L361.5,196.9 L362.5,195.4 L363.5,193.9 L364.5,192.4 L365.5,190.9 L366.5,189.4 L367.5,187.9 L368.5,186.5 L369.5,185.2 L370.5,183.9 L371.5,182.7 L372.5,181.6 L373.5,180.5 L374.5,179.7 L375.5,178.9 L376.5,178.3 L377.5,177.8 L378.5,177.5 L379.5,177.4 L380.5,177.5 L381.5,177.7 L382.5,178.2 L383.5,178.8 L384.5,179.6 L385.5,180.6 L386.5,181.7 L387.5,183.0 L388.5,184.4 L389.5,185.9 L390.5,187.5 L391.5,189.2 L392.5,191.0 L393.5,192.8 L394.5,194.6 L395.5,196.4 L396.5,198.2 L397.5,200.0 L398.5,201.7 L399.5,203.4 L400.5,205.0 L401.5,206.6 L402.5,208.2 L403.5,209.7 L404.5,211.2 L405.5,212.6 L406.5,214.0 L407.5,215.4 L408.5,216.7 L409.5,218.0 L410.5,219.2 L411.5,220.4 L412.5,221.5 L413.5,222.5 L414.5,223.6 L415.5,224.5 L416.5,225.4 L417.5,226.2 L418.5,227.0 L419.5,227.7 L420.5,228.4 L421.5,228.9 L422.5,229.4 L423.5,229.9 L424.5,230.2 L425.5,230.5 L426.5,230.8 L427.5,230.9 L428.5,231.0 L429.5,231.0 L430.5,230.9 L431.5,230.7 L432.5,230.4 L433.5,230.1 L434.5,229.7 L435.5,229.1 L436.5,228.5 L437.5,227.8 L438.5,227.0 L439.5,226.1 L440.5,225.1 L441.5,224.1 L442.5,222.9 L443.5,221.7 L444.5,220.4 L445.5,219.1 L446.5,217.7 L447.5,216.3 L448.5,214.9 L449.5,213.4 L450.5,211.9 L451.5,210.3 L452.5,208.8 L453.5,207.3 L454.5,205.8 L454.6,205.6" fill="none" stroke="#ffa500" stroke-width="2.2" stroke-linejoin="round"/>
<rect x="131.4" y="8.2" width="597.4" height="298.65000000000003" fill="none" stroke="#000" stroke-width="1.35"/>
<text x="61.68" y="311.55" textLength="57.52" lengthAdjust="spacingAndGlyphs">−0.005</text>
<text x="108.98" y="261.78" textLength="10.24" lengthAdjust="spacingAndGlyphs">0</text>
<text x="76.03" y="212.00" textLength="43.13" lengthAdjust="spacingAndGlyphs">0.005</text>
<text x="85.21" y="162.22" textLength="34.36" lengthAdjust="spacingAndGlyphs">0.01</text>
<text x="76.03" y="112.45" textLength="43.13" lengthAdjust="spacingAndGlyphs">0.015</text>
<text x="84.60" y="62.67" textLength="34.89" lengthAdjust="spacingAndGlyphs">0.02</text>
<text x="76.14" y="12.90" textLength="43.03" lengthAdjust="spacingAndGlyphs">0.025</text>
<text x="126.48" y="332.80" textLength="10.24" lengthAdjust="spacingAndGlyphs">0</text>
<text x="202.29" y="332.80" textLength="28.93" lengthAdjust="spacingAndGlyphs">500</text>
<text x="282.76" y="332.80" textLength="38.19" lengthAdjust="spacingAndGlyphs">1000</text>
<text x="368.11" y="332.80" textLength="38.19" lengthAdjust="spacingAndGlyphs">1500</text>
<text x="454.23" y="332.80" textLength="37.39" lengthAdjust="spacingAndGlyphs">2000</text>
<text x="539.57" y="332.80" textLength="37.39" lengthAdjust="spacingAndGlyphs">2500</text>
<text x="624.92" y="332.80" textLength="37.39" lengthAdjust="spacingAndGlyphs">3000</text>
<text x="710.26" y="332.80" textLength="37.39" lengthAdjust="spacingAndGlyphs">3500</text>
<text><tspan x="-0.09" y="161.80" textLength="12.12" lengthAdjust="spacingAndGlyphs" class="i">V</tspan> <tspan x="11.83" y="164.60" textLength="6.81" lengthAdjust="spacingAndGlyphs" class="i" style="font-size:12.6px;stroke-width:0.1px">x</tspan> <tspan x="20.00" y="166.20" textLength="8.08" lengthAdjust="spacingAndGlyphs" style="font-size:27.5px">/</tspan> <tspan x="28.97" y="161.80" textLength="7.78" lengthAdjust="spacingAndGlyphs" class="i">c</tspan> <tspan x="37.13" y="164.40" textLength="6.78" lengthAdjust="spacingAndGlyphs" class="i" style="font-size:12.6px;stroke-width:0.1px">s</tspan></text>
<text><tspan x="404.38" y="363.30" textLength="5.67" lengthAdjust="spacingAndGlyphs" class="i" style="font-size:19.5px">t</tspan> <tspan x="412.80" y="367.80" textLength="7.88" lengthAdjust="spacingAndGlyphs" style="font-size:27.5px">/</tspan> <tspan x="421.29" y="363.30" textLength="13.59" lengthAdjust="spacingAndGlyphs">Ω</tspan> <tspan x="434.89" y="368.20" textLength="7.62" lengthAdjust="spacingAndGlyphs" style="font-size:12.6px;stroke-width:0.1px">0</tspan> <tspan x="435.26" y="357.30" textLength="10.55" lengthAdjust="spacingAndGlyphs" style="font-size:14px;stroke-width:0.0px">−</tspan> <tspan x="447.15" y="355.00" textLength="6.20" lengthAdjust="spacingAndGlyphs" style="font-size:12.6px;stroke-width:0.1px">1</tspan></text>
<path d="M648.2,24.20 H704" stroke="#000" stroke-width="2.2" fill="none" stroke-dasharray="6.3 1.3 1.4 1.3"/>
<text x="469.76" y="28.60" textLength="16.73" lengthAdjust="spacingAndGlyphs">Δ</text>
<text><tspan x="485.93" y="28.60" textLength="11.06" lengthAdjust="spacingAndGlyphs" class="i">n</tspan> <tspan x="497.10" y="33.10" textLength="8.08" lengthAdjust="spacingAndGlyphs" style="font-size:27.5px">/</tspan> <tspan x="505.31" y="28.60" textLength="11.29" lengthAdjust="spacingAndGlyphs" class="i">n</tspan> <tspan x="516.65" y="31.60" textLength="8.10" lengthAdjust="spacingAndGlyphs" style="font-size:11.6px;stroke-width:0.1px">0</tspan> <tspan x="530.10" y="28.60" textLength="15.77" lengthAdjust="spacingAndGlyphs" style="stroke-width:0.05px">=</tspan> <tspan x="551.05" y="28.60" textLength="23.48" lengthAdjust="spacingAndGlyphs">0.1</tspan> <tspan x="580.81" y="28.60" textLength="51.67" lengthAdjust="spacingAndGlyphs">(local)</tspan></text>
<path d="M648.2,44.88 H704" stroke="#0000ff" stroke-width="2.2" fill="none" stroke-dasharray="2.3 2.4"/>
<text x="466.16" y="49.28" textLength="16.73" lengthAdjust="spacingAndGlyphs">Δ</text>
<text><tspan x="482.33" y="49.28" textLength="11.06" lengthAdjust="spacingAndGlyphs" class="i">n</tspan> <tspan x="493.50" y="53.78" textLength="8.08" lengthAdjust="spacingAndGlyphs" style="font-size:27.5px">/</tspan> <tspan x="501.71" y="49.28" textLength="11.29" lengthAdjust="spacingAndGlyphs" class="i">n</tspan> <tspan x="513.05" y="52.28" textLength="8.10" lengthAdjust="spacingAndGlyphs" style="font-size:11.6px;stroke-width:0.1px">0</tspan> <tspan x="526.50" y="49.28" textLength="15.77" lengthAdjust="spacingAndGlyphs" style="stroke-width:0.05px">=</tspan> <tspan x="547.45" y="49.28" textLength="23.48" lengthAdjust="spacingAndGlyphs">0.1</tspan> <tspan x="577.18" y="49.28" textLength="55.33" lengthAdjust="spacingAndGlyphs">(mod.)</tspan></text>
<path d="M648.2,65.56 H704" stroke="#000" stroke-width="2.2" fill="none"/>
<text x="461.26" y="69.96" textLength="16.73" lengthAdjust="spacingAndGlyphs">Δ</text>
<text><tspan x="477.43" y="69.96" textLength="11.06" lengthAdjust="spacingAndGlyphs" class="i">n</tspan> <tspan x="488.60" y="74.46" textLength="8.08" lengthAdjust="spacingAndGlyphs" style="font-size:27.5px">/</tspan> <tspan x="496.81" y="69.96" textLength="11.29" lengthAdjust="spacingAndGlyphs" class="i">n</tspan> <tspan x="508.15" y="72.96" textLength="8.10" lengthAdjust="spacingAndGlyphs" style="font-size:11.6px;stroke-width:0.1px">0</tspan> <tspan x="521.60" y="69.96" textLength="15.77" lengthAdjust="spacingAndGlyphs" style="stroke-width:0.05px">=</tspan> <tspan x="542.55" y="69.96" textLength="23.48" lengthAdjust="spacingAndGlyphs">0.1</tspan> <tspan x="572.29" y="69.96" textLength="63.82" lengthAdjust="spacingAndGlyphs">(global)</tspan></text>
<path d="M648.2,86.24 H704" stroke="#ffa500" stroke-width="2.2" fill="none" stroke-dasharray="6.3 1.3 1.4 1.3"/>
<text x="469.76" y="90.64" textLength="16.73" lengthAdjust="spacingAndGlyphs">Δ</text>
<text><tspan x="485.93" y="90.64" textLength="11.06" lengthAdjust="spacingAndGlyphs" class="i">n</tspan> <tspan x="497.10" y="95.14" textLength="8.08" lengthAdjust="spacingAndGlyphs" style="font-size:27.5px">/</tspan> <tspan x="505.31" y="90.64" textLength="11.29" lengthAdjust="spacingAndGlyphs" class="i">n</tspan> <tspan x="516.65" y="93.64" textLength="8.10" lengthAdjust="spacingAndGlyphs" style="font-size:11.6px;stroke-width:0.1px">0</tspan> <tspan x="530.10" y="90.64" textLength="15.77" lengthAdjust="spacingAndGlyphs" style="stroke-width:0.05px">=</tspan> <tspan x="551.06" y="90.64" textLength="23.08" lengthAdjust="spacingAndGlyphs">0.5</tspan> <tspan x="580.81" y="90.64" textLength="51.67" lengthAdjust="spacingAndGlyphs">(local)</tspan></text>
<path d="M648.2,106.92 H704" stroke="#ff0000" stroke-width="2.2" fill="none" stroke-dasharray="2.3 2.4"/>
<text x="466.16" y="111.32" textLength="16.73" lengthAdjust="spacingAndGlyphs">Δ</text>
<text><tspan x="482.33" y="111.32" textLength="11.06" lengthAdjust="spacingAndGlyphs" class="i">n</tspan> <tspan x="493.50" y="115.82" textLength="8.08" lengthAdjust="spacingAndGlyphs" style="font-size:27.5px">/</tspan> <tspan x="501.71" y="111.32" textLength="11.29" lengthAdjust="spacingAndGlyphs" class="i">n</tspan> <tspan x="513.05" y="114.32" textLength="8.10" lengthAdjust="spacingAndGlyphs" style="font-size:11.6px;stroke-width:0.1px">0</tspan> <tspan x="526.50" y="111.32" textLength="15.77" lengthAdjust="spacingAndGlyphs" style="stroke-width:0.05px">=</tspan> <tspan x="547.46" y="111.32" textLength="23.08" lengthAdjust="spacingAndGlyphs">0.5</tspan> <tspan x="577.18" y="111.32" textLength="55.33" lengthAdjust="spacingAndGlyphs">(mod.)</tspan></text>
<path d="M648.2,127.60 H704" stroke="#ffa500" stroke-width="2.2" fill="none"/>
<text x="461.26" y="132.00" textLength="16.73" lengthAdjust="spacingAndGlyphs">Δ</text>
<text><tspan x="477.43" y="132.00" textLength="11.06" lengthAdjust="spacingAndGlyphs" class="i">n</tspan> <tspan x="488.60" y="136.50" textLength="8.08" lengthAdjust="spacingAndGlyphs" style="font-size:27.5px">/</tspan> <tspan x="496.81" y="132.00" textLength="11.29" lengthAdjust="spacingAndGlyphs" class="i">n</tspan> <tspan x="508.15" y="135.00" textLength="8.10" lengthAdjust="spacingAndGlyphs" style="font-size:11.6px;stroke-width:0.1px">0</tspan> <tspan x="521.60" y="132.00" textLength="15.77" lengthAdjust="spacingAndGlyphs" style="stroke-width:0.05px">=</tspan> <tspan x="542.56" y="132.00" textLength="23.08" lengthAdjust="spacingAndGlyphs">0.5</tspan> <tspan x="572.29" y="132.00" textLength="63.82" lengthAdjust="spacingAndGlyphs">(global)</tspan></text>
</svg></body></html>
